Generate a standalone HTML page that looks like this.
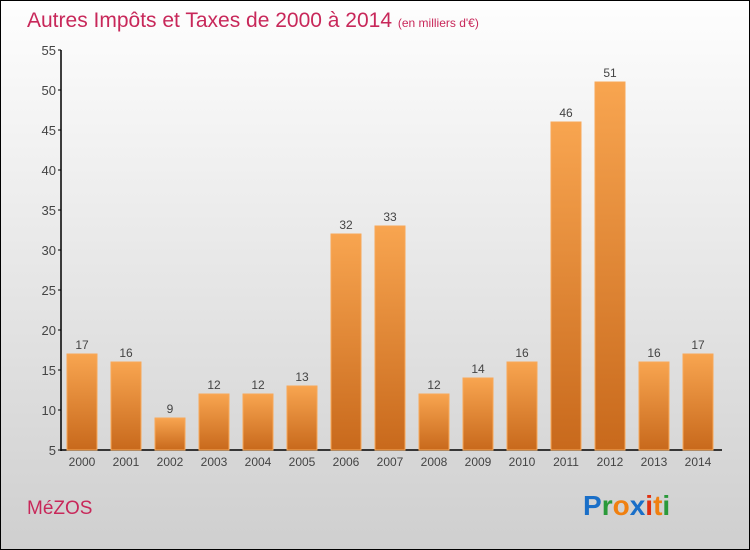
<!DOCTYPE html>
<html><head><meta charset="utf-8"><style>
body{margin:0}
#c{position:relative;width:750px;height:550px;box-sizing:border-box;border:1px solid #000;background:linear-gradient(#fefefe,#cfcfcf);font-family:"Liberation Sans",sans-serif;overflow:hidden}
</style></head><body>
<div id="c">
<svg width="750" height="550" style="position:absolute;left:-1px;top:-1px" id="s">
<defs><linearGradient id="g" x1="0" y1="0" x2="0" y2="1"><stop offset="0" stop-color="#f8a550"/><stop offset="1" stop-color="#c8691c"/></linearGradient></defs>
<text x="27" y="27" font-size="21" fill="#c8285a">Autres Impôts et Taxes de 2000 à 2014 <tspan font-size="12">(en milliers d'€)</tspan></text>
<text x="27" y="514" font-size="19" fill="#c8285a">MéZOS</text>
<g font-size="28" font-weight="bold" font-family="Liberation Sans,sans-serif">
<text x="583" y="515"><tspan fill="#1a6fc8">P</tspan><tspan fill="#2a9a3a">r</tspan><tspan fill="#f08010">o</tspan><tspan fill="#1a6fc8">x</tspan><tspan fill="#e03010">i</tspan><tspan fill="#f08010">t</tspan><tspan fill="#2a9a3a">i</tspan></text></g>
<g id="axes"></g><g id="bars"></g>
</svg>
</div>
<script>
const years=["2000","2001","2002","2003","2004","2005","2006","2007","2008","2009","2010","2011","2012","2013","2014"];
const values=[17,16,9,12,12,13,32,33,12,14,16,46,51,16,17];
const ticks=[5,10,15,20,25,30,35,40,45,50,55];
const NS="http://www.w3.org/2000/svg";
const y=v=>450-(v-5)*8;
const x=i=>67+44*i;
function mk(t,a,p){const e=document.createElementNS(NS,t);for(const k in a)e.setAttribute(k,a[k]);p.appendChild(e);return e;}
const ax=document.getElementById('axes'),bg=document.getElementById('bars');
const yl=mk('line',{x1:61,y1:50,x2:61,y2:451,stroke:'#000','stroke-width':1.5},ax);


const xl=mk('line',{x1:61,y1:450,x2:722,y2:450,stroke:'#000','stroke-width':1.5},ax);


ticks.forEach(t=>{
 mk('line',{x1:58,y1:y(t),x2:61,y2:y(t),stroke:'#000'},ax);
 const tx=mk('text',{x:56,y:y(t)+5,'text-anchor':'end','font-size':13,fill:'#444'},ax);tx.textContent=t;
 
 
});
years.forEach((yr,i)=>{
 const v=values[i];
 const r=mk('rect',{x:x(i),y:y(v),width:30,height:450-y(v),fill:'url(#g)',stroke:'#f8a858','stroke-width':1},bg);
 
 
 const l=mk('text',{x:x(i)+15,y:y(v)-5,'text-anchor':'middle','font-size':12,fill:'#444'},bg);l.textContent=v;
 
 
 const xt=mk('text',{x:x(i)+15,y:466,'text-anchor':'middle','font-size':12,fill:'#444'},ax);xt.textContent=yr;
 
 
});
</script>
</body></html>
